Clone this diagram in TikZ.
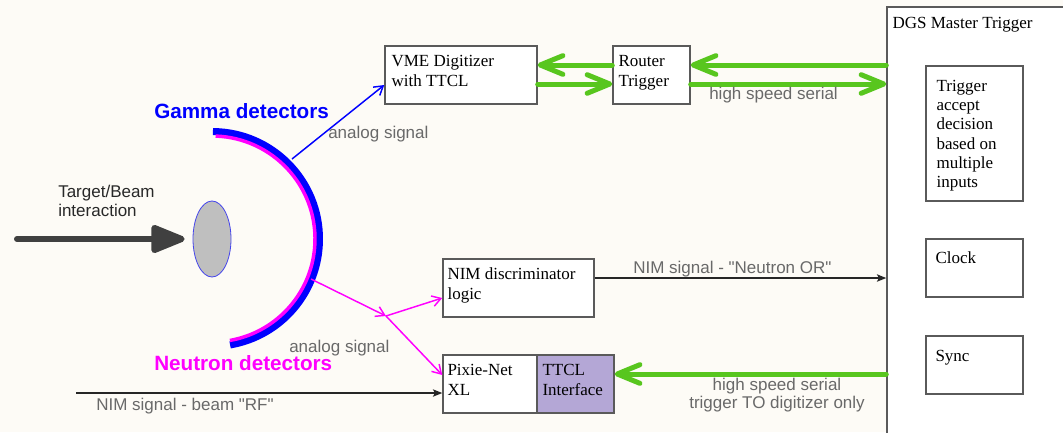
\documentclass[tikz,border=0pt]{standalone}
\usepackage{fontspec}
\setmainfont{Liberation Serif}
\newfontfamily\lsans{Liberation Sans}
\usetikzlibrary{arrows.meta,shapes.geometric,fit,calc}
\definecolor{bg}{RGB}{253,251,246}
\definecolor{grn}{RGB}{88,198,30}
\definecolor{boxline}{RGB}{90,90,90}
\definecolor{lblgray}{RGB}{105,105,105}
\definecolor{ttclfill}{RGB}{180,167,214}
\definecolor{beamc}{RGB}{64,64,64}
\definecolor{ellfill}{RGB}{191,191,191}
\definecolor{ellline}{RGB}{70,70,235}
\definecolor{gblue}{RGB}{0,0,255}
\definecolor{nmag}{RGB}{255,0,255}
\definecolor{darktext}{RGB}{40,40,40}
\begin{document}
\begin{tikzpicture}[x=0.75pt,y=-0.75pt,
  box/.style={draw=boxline, fill=white, line width=1.1pt, inner sep=0pt},
  btxt/.style={font=\fontsize{12.75pt}{15pt}\selectfont, anchor=base west, align=left, inner sep=0pt},
  lbl/.style={font=\lsans\fontsize{12.75pt}{13.5pt}\selectfont, text=lblgray, anchor=base west, inner sep=0pt},
  detlbl/.style={font=\lsans\bfseries\fontsize{15.5pt}{18pt}\selectfont, anchor=base west, inner sep=0pt},
  gline/.style={draw=grn, line width=3.75pt, line cap=round,
    -{Straight Barb[length=17pt,width=14pt,line cap=round,line join=round]}},
  kline/.style={draw=black!85, line width=1.1pt, -{Stealth[length=7pt,width=5.5pt,inset=1.5pt]}},
  thinbarb/.style={line width=1.1pt, -{Straight Barb[length=6.5pt,width=8pt]}},
]
\useasboundingbox (0,0) rectangle (1063,432);
\fill[bg] (0,0) rectangle (1063,432);

% helper coordinates
\coordinate (y65) at (0,65);
\coordinate (y84) at (0,84);
\coordinate (y85) at (0,85);
\coordinate (y278) at (0,278);
\coordinate (y298) at (0,298);
\coordinate (y374) at (0,374);
\coordinate (y375) at (0,375);

% DGS master trigger
\node[box, fit={(887,7) (1080,450)}] (dgs) {};
\node[btxt] (dgsT) at ($(dgs.north west)+(6,22)$) {DGS Master Trigger};
\node[box, fit={(926,66) (1023,201)}] (trig) {};
\node[btxt, font=\fontsize{12.75pt}{14.5pt}\selectfont] (trigT) at ($(trig.north west)+(11,26+96.7)$) {Trigger\\accept\\decision\\based on\\multiple\\inputs};
\node[box, fit={(926,239) (1023,297)}] (clock) {};
\node[btxt] (clockT) at ($(clock.north west)+(10,25)$) {Clock};
\node[box, fit={(926,336) (1023,394)}] (sync) {};
\node[btxt] (syncT) at ($(sync.north west)+(10,26)$) {Sync};

% other boxes
\node[box, fit={(385,46) (537,104)}] (vme) {};
\node[btxt] (vmeT) at ($(vme.north west)+(7,41)$) {VME Digitizer\\with TTCL};
\node[box, fit={(613,46) (690,104)}] (router) {};
\node[btxt] (routerT) at ($(router.north west)+(6,41)$) {Router\\Trigger};
\node[box, fit={(443,259) (594,317)}] (nim) {};
\node[btxt] (nimT) at ($(nim.north west)+(5,41)$) {NIM discriminator\\logic};
\node[box, fit={(443,355) (537,413)}] (pixie) {};
\node[btxt] (pixieT) at ($(pixie.north west)+(5,41)$) {Pixie-Net\\XL};
\node[box, fill=ttclfill, fit={(537,355) (614,413)}] (ttcl) {};
\node[btxt] (ttclT) at ($(ttcl.north west)+(6,41)$) {TTCL\\Interface};

% target and beam
\node[ellipse, draw=ellline, fill=ellfill, line width=0.6pt, inner sep=0pt,
      minimum width=28.5pt, minimum height=57pt] (target) at (212,239) {};
\coordinate (beamstart) at (17,239);
\draw[draw=beamc, line width=4.5pt, line cap=round, shorten >=6pt,
      -{Triangle[length=29pt,width=22pt,round]}] (beamstart) -- (target.west);
\node[lbl, text=darktext, align=left, font=\lsans\fontsize{12.75pt}{14.25pt}\selectfont] (targetT) at (58,216) {Target/Beam\\interaction};

% detectors
\draw[draw=gblue, line width=5.25pt] (212,239) ++(-89.5:107.5) arc[start angle=-89.5, end angle=80.3, radius=107.5];
\draw[draw=nmag, line width=2.6pt] (212,239) ++(-88:103) arc[start angle=-88, end angle=80, radius=103];
\node[detlbl, text=gblue] (gammaT) at (154,118) {Gamma detectors};
\node[detlbl, text=nmag] (neutronT) at (154,370) {Neutron detectors};

% gamma signal
\coordinate (gstart) at (292,159);
\draw[thinbarb, draw=gblue] (gstart) -- (vme.west |- y85);
\node[lbl] (analog1) at (328,138) {analog signal};

% neutron signals
\coordinate (nstart) at (311,279);
\coordinate (j) at (386,316);
\draw[thinbarb, draw=nmag] (nstart) -- (j);
\draw[thinbarb, draw=nmag] (j) -- (nim.west |- y298);
\draw[thinbarb, draw=nmag] (j) -- (pixie.west |- y375);
\node[lbl] (analog2) at (289,352) {analog signal};

% green high speed links
\draw[gline] (router.west |- y65) -- (vme.east |- y65);
\draw[gline] (vme.east |- y84) -- (router.west |- y84);
\draw[gline] (dgs.west |- y65) -- (router.east |- y65);
\draw[gline] (router.east |- y84) -- (dgs.west |- y84);
\node[lbl] (hss1) at (709,99) {high speed serial};
\draw[gline] (dgs.west |- y374) -- (ttcl.east |- y374);
\node[lbl, anchor=base, align=center] (hss2) at (777,408) {high speed serial\\trigger TO digitizer only};

% NIM signals
\draw[kline] (nim.east |- y278) -- (dgs.west |- y278);
\node[lbl] (nimor) at (633,273) {NIM signal - "Neutron OR"};
\coordinate (rf) at (76,393);
\draw[kline] (rf) -- (pixie.west |- rf);
\node[lbl] (rfT) at (96,410) {NIM signal - beam "RF"};
\end{tikzpicture}
\end{document}
